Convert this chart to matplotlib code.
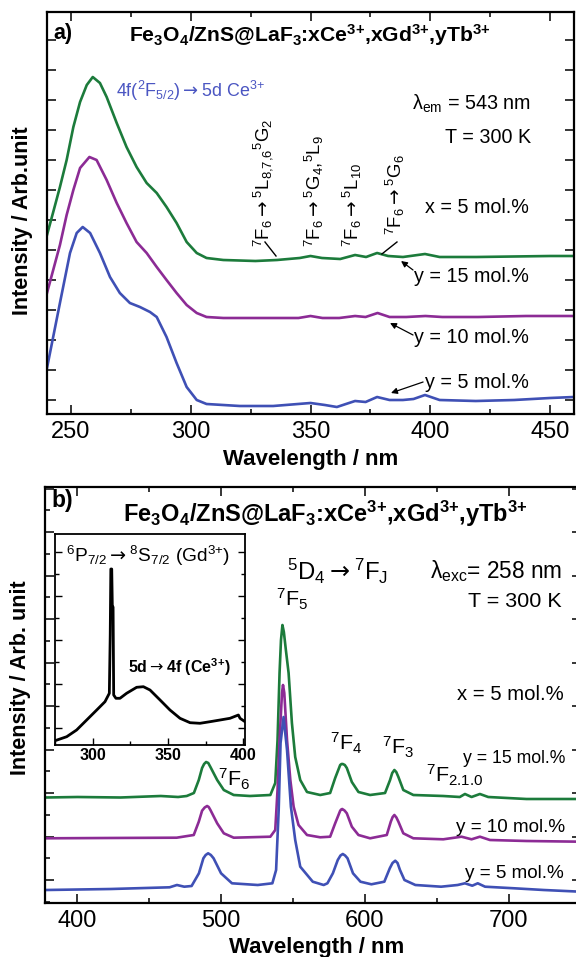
import numpy as np
import matplotlib
matplotlib.use('Agg')
import matplotlib.pyplot as plt
from matplotlib.ticker import MultipleLocator
from matplotlib import font_manager

names = {f.name for f in font_manager.fontManager.ttflist}
if 'Liberation Sans Narrow' in names:
    NARROW = ['Liberation Sans Narrow', 'Liberation Sans', 'DejaVu Sans']
    NS = 1.0
else:
    NARROW = ['Liberation Sans', 'DejaVu Sans']
    NS = 0.86

plt.rcParams['font.family'] = ['Liberation Sans', 'DejaVu Sans']
plt.rcParams['mathtext.default'] = 'regular'

GREEN = '#1c7b3b'
PURPLE = '#8c2b95'
BLUE = '#3f50b5'
TBLUE = '#4b56c2'
AR = r'$\mathrm{\rightarrow}$'

# ---------------- panel a : excitation spectra ----------------
wl_a_green = [240, 242.6, 245.4, 248.2, 251, 253.8, 256.6, 259.1, 262.1, 264.9, 269.1, 273.2,
              277.4, 281.6, 285.8, 289.9, 294.1, 298.3, 302.5, 306.6, 313.6, 327, 336, 345.5,
              350, 354.8, 362.4, 368.6, 373.2, 377.8, 382.4, 388.6, 397.8, 403.9, 419.3, 450, 460]
int_a_green = [179, 202, 227, 254, 287, 312, 329, 337, 331, 317, 291, 267,
               247, 231, 221, 207, 191, 172, 161, 156, 154, 153, 154, 156,
               158, 156, 155, 159, 157, 161, 158, 157, 160, 157, 157, 158, 158]

wl_a_purple = [240, 245.4, 248.2, 251, 253.8, 257.7, 260.7, 264.9, 269.1, 273.2, 277.4, 281.6,
               285.8, 289.9, 294.1, 298.3, 302.5, 306.6, 313.6, 330, 345, 350, 355, 362,
               368.6, 373, 378, 383, 390, 398, 405, 420, 440, 460]
int_a_purple = [121, 169, 199, 224, 246, 257, 254, 234, 211, 191, 172, 161,
                147, 134, 121, 109, 101, 97, 96, 96, 96, 98, 96, 96,
                98, 97, 101, 97, 97, 98, 97, 97, 98, 98]

wl_a_blue = [240, 245.4, 249.6, 252.4, 254.9, 258, 262.1, 266.3, 270.4, 274.6, 278.8, 283,
             285.8, 289.9, 294.1, 298.3, 302.5, 306.6, 320.5, 334.4, 350, 356, 361, 368.6,
             373, 377.8, 383, 388.6, 393, 397.8, 403.9, 419, 435, 450, 460]
int_a_blue = [46, 111, 161, 181, 187, 181, 161, 137, 121, 111, 107, 102,
              97, 77, 51, 27, 14, 10, 8, 8, 11, 9, 7, 13,
              12, 17, 14, 14, 15, 19, 14, 13, 14, 16, 17]

xticks_a = [250, 300, 350, 400, 450]

# ---------------- panel b : emission spectra ----------------
wl_b_green = [378, 400, 430, 458, 470, 476, 481, 484.4, 486.7, 488.1, 489.5, 491, 492.5, 497.2,
              501.8, 508.7, 520, 534.2, 537.6, 539.2, 540.6, 541.6, 542.6, 543.6, 545, 546.9,
              549.2, 551.5, 555, 559.7, 568.9, 575.8, 579.3, 582.8, 583.7, 584.6, 586, 587.4,
              590.9, 595.5, 603.6, 614, 617.5, 619, 620.5, 621.8, 623.3, 626.7, 633.7, 654.5,
              666, 669.6, 674.2, 680, 685.8, 712.4, 750]
int_b_green = [105.5, 106, 105.5, 107, 106, 107, 110, 123, 135, 139, 141, 140, 136, 123,
               113, 108, 107, 108, 120, 163, 230, 263, 278, 271, 253, 230,
               180, 146, 123, 111, 108, 110, 125, 138, 139, 139, 138, 135,
               121, 111, 108, 110, 123, 130, 133, 131, 126, 113, 108, 107,
               106, 109, 106, 109, 106, 104, 104]

wl_b_purple = [378, 420, 469, 480.9, 484.4, 486.7, 488.5, 490.2, 491.3, 492.5, 497.2, 501.8,
               508.7, 534.2, 537.6, 539.2, 540.6, 542.3, 543, 543.9, 545.8, 548.1, 550.4, 553.8,
               559.7, 568.9, 575.8, 579.3, 582.8, 583.5, 584.2, 585.8, 587.4, 590.9, 595.5, 603.6,
               615.2, 618, 619.3, 620.5, 621.9, 623.3, 626.7, 633.7, 654.5, 667.2, 674.2, 680,
               687, 712.4, 750]
int_b_purple = [64.7, 65, 65.3, 68, 81.3, 92.3, 95.5, 97, 96, 93, 79.7, 69.7,
                65.3, 66.3, 73, 113, 163, 210, 218, 210, 163, 123, 96.3, 78,
                68, 65.7, 66.3, 79.7, 92.3, 93.5, 94, 92.5, 89.7, 76.3, 68, 64.7,
                68, 81.3, 86, 88, 85.5, 81.3, 69.7, 64.7, 63.7, 66.3, 63.7, 66.3,
                63, 62, 61.3]

wl_b_blue = [378, 423.3, 464.1, 469.2, 474.3, 479.4, 484.5, 487.6, 489.2, 490.9, 492.8, 494.7,
             499.9, 507.5, 525.4, 535.6, 538.2, 540, 541.3, 543.4, 545.8, 548.5, 551.5, 555,
             563.7, 571.3, 573.9, 577.7, 581.1, 583, 584.6, 586.2, 587.9, 591.7, 596.9, 604.5,
             613.5, 617.3, 619.2, 621.1, 622.7, 624.4, 627.5, 635.1, 653, 664.5, 669.6, 674.7,
             678.5, 683.6, 704, 724.4, 750]
int_b_blue = [13, 14, 15.7, 18, 16.3, 17, 29.7, 44.7, 48, 49.7, 48, 44.7,
              29.7, 19.7, 18, 19.7, 33, 93, 160, 186, 153, 96.3, 63, 36.3,
              21.3, 18, 19.7, 29.7, 43, 47.5, 49, 47.5, 44.7, 29.7, 21.3, 18.7,
              21.3, 34.7, 40, 42.3, 40, 33, 23, 18, 16.3, 18, 19.7, 17.3,
              19.7, 16.3, 14.7, 13, 11.3]

xticks_b = [400, 500, 600, 700]

# ---------------- inset : excitation monitored ----------------
wl_inset = [274.7, 282.5, 289.1, 295.8, 302.5, 308, 310.9, 311.5, 311.9, 312.5, 312.9, 313.4,
            313.8, 315.3, 318, 322.4, 329.1, 333.6, 338, 344.7, 351.3, 358, 364.7, 371.3,
            378, 384.7, 391.3, 396.9, 398, 401.3]
int_inset = [4.3, 8.3, 15, 25, 35, 43.3, 51.7, 110, 176, 176, 138, 138,
             50, 46.7, 46.7, 51.7, 57.7, 58.3, 55, 45, 35, 26.7, 22.3, 21.7,
             23.3, 25, 26.7, 30, 26.7, 23.3]
xticks_in = [300, 350, 400]

TITLE = 'Fe$_3$O$_4$/ZnS@LaF$_3$:xCe$^{3{+}}$,xGd$^{3{+}}$,yTb$^{3{+}}$'

fig = plt.figure(figsize=(5.76, 9.57), dpi=100)
ax_a = fig.add_axes([47 / 576, (957 - 414) / 957, 527 / 576, 402 / 957])
ax_b = fig.add_axes([45 / 576, (957 - 903) / 957, 535.5 / 576, 416 / 957])
ax_in = fig.add_axes([55 / 576, (957 - 745) / 957, 190 / 576, 211 / 957])

LW = 1.9
ax_a.plot(wl_a_green, int_a_green, color=GREEN, lw=LW)
ax_a.plot(wl_a_purple, int_a_purple, color=PURPLE, lw=LW)
ax_a.plot(wl_a_blue, int_a_blue, color=BLUE, lw=LW)
ax_b.plot(wl_b_green, int_b_green, color=GREEN, lw=LW)
ax_b.plot(wl_b_purple, int_b_purple, color=PURPLE, lw=LW)
ax_b.plot(wl_b_blue, int_b_blue, color=BLUE, lw=LW)
ax_in.plot(wl_inset, int_inset, color='black', lw=2.0)

ax_a.set_xlim(240, 460)
ax_a.set_ylim(0, 402)
ax_b.set_xlim(377.4, 750)
ax_b.set_ylim(0, 416)
ax_in.set_xlim(274.7, 401.3)
ax_in.set_ylim(0, 211)

ax_a.set_xticks(xticks_a)
ax_a.set_xticklabels([str(v) for v in xticks_a])
ax_a.xaxis.set_minor_locator(MultipleLocator(25))
ax_a.yaxis.set_major_locator(MultipleLocator(30, offset=14))
ax_b.set_xticks(xticks_b)
ax_b.set_xticklabels([str(v) for v in xticks_b])
ax_b.xaxis.set_minor_locator(MultipleLocator(50))
ax_b.yaxis.set_major_locator(MultipleLocator(43.5, offset=23))
ax_b.yaxis.set_minor_locator(MultipleLocator(21.75, offset=1.25))
ax_in.set_xticks(xticks_in)
ax_in.set_xticklabels([str(v) for v in xticks_in], fontweight='bold')
ax_in.xaxis.set_minor_locator(MultipleLocator(25))
ax_in.yaxis.set_major_locator(MultipleLocator(44, offset=17))
ax_in.yaxis.set_minor_locator(MultipleLocator(22, offset=17))

for ax in (ax_a, ax_b):
    ax.tick_params(which='both', direction='in', top=True, right=True, width=1.1,
                   labelleft=False, labelsize=17, pad=5)
    ax.tick_params(which='major', length=6.5)
    ax.tick_params(which='minor', length=3.5)
    for s in ax.spines.values():
        s.set_linewidth(1.6)
ax_in.tick_params(which='both', direction='in', right=True, width=1.0,
                  labelleft=False, labelsize=11.5, pad=2)
ax_in.tick_params(which='major', length=5)
ax_in.tick_params(which='minor', length=3)
for s in ax_in.spines.values():
    s.set_linewidth(1.3)

ax_a.set_ylabel('Intensity / Arb.unit', fontsize=15.5, fontweight='bold', va='center')
ax_a.yaxis.set_label_coords(-0.047, 0.48)
ax_a.set_xlabel('Wavelength / nm', fontsize=16, fontweight='bold', va='center')
ax_a.xaxis.set_label_coords(0.501, -0.114)
ax_b.set_ylabel('Intensity / Arb. unit', fontsize=15.5, fontweight='bold', va='center')
ax_b.yaxis.set_label_coords(-0.045, 0.541)
ax_b.set_xlabel('Wavelength / nm', fontsize=16, fontweight='bold', va='center')
ax_b.xaxis.set_label_coords(0.508, -0.108)

FS = 16.5 * NS
# ---- panel a texts
ax_a.text(246.7, 381, 'a)', fontsize=15.5, fontweight='bold', ha='center', va='center')
ax_a.text(349.8, 372, TITLE, fontsize=15.2, fontweight='bold', ha='center', va='baseline')
ax_a.text(268.8, 317, '4f($^2$F$_{5/2}$)' + AR + '5d Ce$^{3{+}}$', family=NARROW,
          fontsize=15 * NS, color=TBLUE, ha='left', va='baseline')
ax_a.text(442, 304, 'λ$_{em}$ = 543 nm', family=NARROW, fontsize=FS, ha='right', va='baseline')
ax_a.text(442, 271, 'T = 300 K', family=NARROW, fontsize=FS, ha='right', va='baseline')
ax_a.text(441.2, 201, 'x = 5 mol.%', family=NARROW, fontsize=FS, ha='right', va='baseline')
ax_a.text(441.2, 132, 'y = 15 mol.%', family=NARROW, fontsize=FS, ha='right', va='baseline')
ax_a.text(441.2, 71, 'y = 10 mol.%', family=NARROW, fontsize=FS, ha='right', va='baseline')
ax_a.text(441.2, 26, 'y = 5 mol.%', family=NARROW, fontsize=FS, ha='right', va='baseline')

arrows_a = [((392.8, 144), (387.8, 153)), ((392.8, 79), (383.2, 91)), ((397, 32), (383.6, 21))]
for tail, head in arrows_a:
    ax_a.annotate('', xy=head, xytext=tail,
                  arrowprops=dict(arrowstyle='-|>', lw=0.9, color='black',
                                  mutation_scale=9, shrinkA=0, shrinkB=0))

rot_labels = [
    (330.2, 167, '$^7$F$_6$' + AR + '$^5$L$_{8{,}7{,}6}$$^5$G$_2$'),
    (351.5, 167, '$^7$F$_6$' + AR + '$^5$G$_4$,$^5$L$_9$'),
    (367.7, 167, '$^7$F$_6$' + AR + '$^5$L$_{10}$'),
    (385.3, 179, '$^7$F$_6$' + AR + '$^5$G$_6$'),
]
for x, y, s in rot_labels:
    ax_a.text(x, y, s, rotation=90, family=NARROW, fontsize=15.5 * NS,
              ha='center', va='bottom')
ax_a.plot([331, 335.6], [172, 158], color='black', lw=1.0)
ax_a.plot([386.1, 379.8], [172, 160], color='black', lw=1.0)

# ---- panel b texts
ax_b.text(389.2, 403, 'b)', fontsize=16.5, fontweight='bold', ha='center', va='center')
ax_b.text(572.2, 381, TITLE, fontsize=17, fontweight='bold', ha='center', va='baseline')
ax_b.text(545.8, 323, '$^5$D$_4$' + AR + '$^7$F$_J$', family=NARROW, fontsize=20 * NS,
          ha='left', va='baseline')
ax_b.text(737.2, 325, 'λ$_{exc}$= 258 nm', family=NARROW, fontsize=19 * NS,
          ha='right', va='baseline')
ax_b.text(737.2, 296, 'T = 300 K', family=NARROW, fontsize=18 * NS, ha='right', va='baseline')
ax_b.text(738, 203, 'x = 5 mol.%', family=NARROW, fontsize=17 * NS, ha='right', va='baseline')
ax_b.text(739.2, 140, 'y = 15 mol.%', family=NARROW, fontsize=14.8 * NS, ha='right', va='baseline')
ax_b.text(739.2, 71, 'y = 10 mol.%', family=NARROW, fontsize=15.8 * NS, ha='right', va='baseline')
ax_b.text(738.5, 25, 'y = 5 mol.%', family=NARROW, fontsize=15.8 * NS, ha='right', va='baseline')

f_labels = [
    (538.1, 296, '$^7$F$_5$'),
    (497.5, 117, '$^7$F$_6$'),
    (575.7, 153, '$^7$F$_4$'),
    (611.9, 148, '$^7$F$_3$'),
    (642.5, 121, '$^7$F$_{2.1.0}$'),
]
for x, y, s in f_labels:
    ax_b.text(x, y, s, family=NARROW, fontsize=18 * NS, ha='left', va='baseline')

# ---- inset texts
ax_in.text(282, 183, '$^6$P$_{7/2}$' + AR + '$^8$S$_{7/2}$ (Gd$^{3{+}}$)', family=NARROW,
           fontsize=16 * NS, ha='left', va='baseline')
ax_in.text(323.3, 72, '5d' + AR + '4f (Ce$^{3{+}}$)', fontsize=11.5, fontweight='bold',
           ha='left', va='baseline')

fig.savefig('out.png', dpi=100)
